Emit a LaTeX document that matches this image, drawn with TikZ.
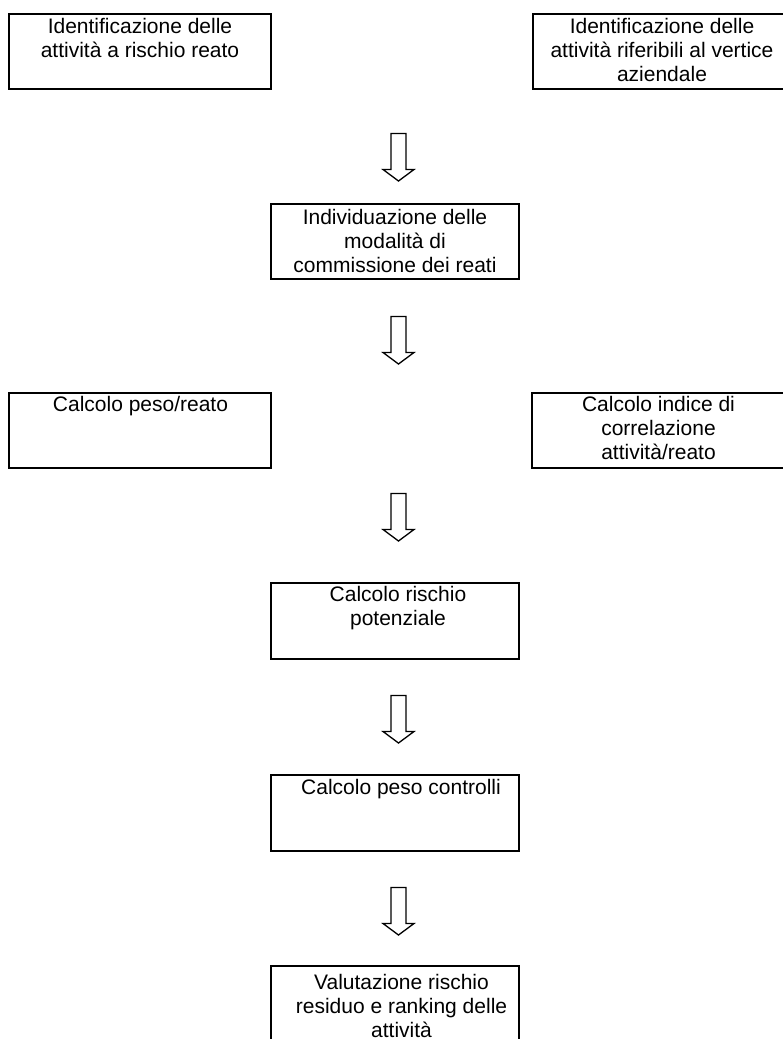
\documentclass[tikz,border=0pt]{standalone}
\usepackage{fontspec}
\setmainfont{Liberation Sans}
\begin{document}
\begin{tikzpicture}[x=1pt,y=-1pt,
  boxnode/.style={draw=black,line width=1.8pt,inner sep=0pt,anchor=north west,
    minimum width=#1,minimum height=75pt},
  boxnode/.default=248pt,
  boxtext/.style={anchor=north,inner sep=0pt,align=center,text=black,
    font=\fontsize{21}{24}\selectfont},
  blockarrow/.pic={
    \draw[line width=1.3pt,line join=miter,fill=white]
      (-7.5,0) -- (7.5,0) -- (7.5,36) -- (15.5,36) -- (0,47.5) -- (-15.5,36) -- (-7.5,36) -- cycle;
  }]
\useasboundingbox (0,0) rectangle (783,1039);
\clip (0,0) rectangle (783,1039);
\fill[white] (0,0) rectangle (783,1039);

% boxes
\node[boxnode=262pt] (b1) at (8,13) {};
\node[boxtext] (t1) at (140,18) {Identificazione delle\\attività a rischio reato};

\node[boxnode=262pt] (b2) at (532,13) {};
\node[boxtext] (t2) at (662,18) {Identificazione delle\\attività riferibili al vertice\\aziendale};

\node[boxnode] (b3) at (270,203) {};
\node[boxtext] (t3) at (395,209.5) {Individuazione delle\\modalità di\\commissione dei reati};

\node[boxnode=262pt] (b4) at (8,392) {};
\node[boxtext] (t4) at (140.5,396.5) {Calcolo peso/reato};

\node[boxnode=262pt] (b5) at (531,392) {};
\node[boxtext] (t5) at (658.5,396.5) {Calcolo indice di\\correlazione\\attività/reato};

\node[boxnode,minimum height=76pt] (b6) at (270,582) {};
\node[boxtext] (t6) at (398,586.5) {Calcolo rischio\\potenziale};

\node[boxnode,minimum height=76pt] (b7) at (270,774) {};
\node[boxtext] (t7) at (401,779.5) {Calcolo peso controlli};

\node[boxnode,minimum height=90pt] (b8) at (270,965) {};
\node[boxtext] (t8) at (401.5,974) {Valutazione rischio\\residuo e ranking delle\\attività};

% block arrows
\pic (a1) at (398.5,133.5) {blockarrow};
\pic (a2) at (398.5,316.5) {blockarrow};
\pic (a3) at (398.5,493.5) {blockarrow};
\pic (a4) at (398.5,695.5) {blockarrow};
\pic (a5) at (398.5,887.5) {blockarrow};
\end{tikzpicture}
\end{document}
